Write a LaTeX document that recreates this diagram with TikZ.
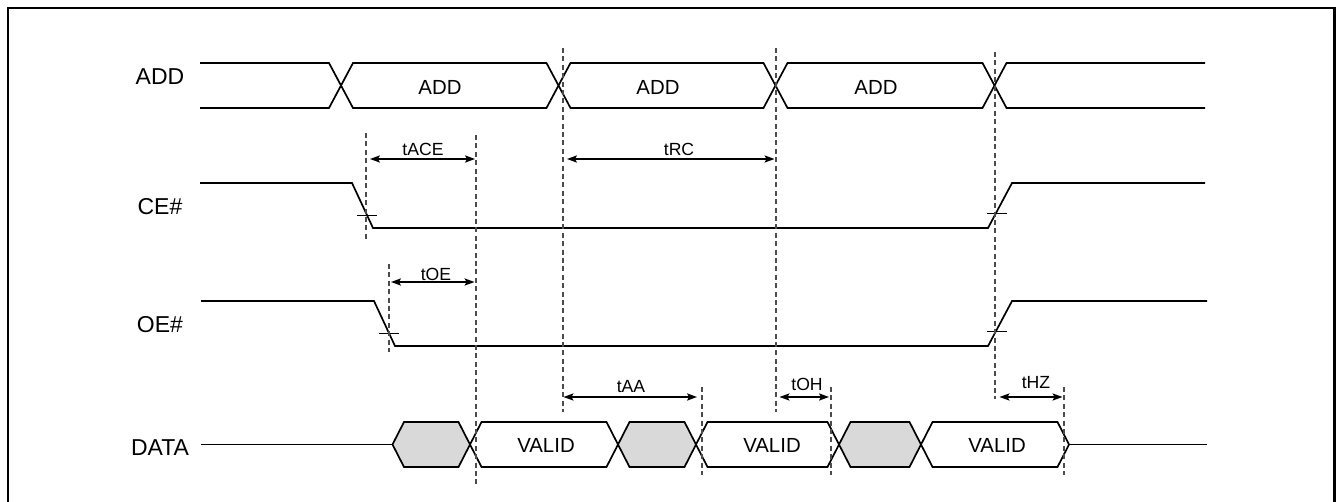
\documentclass[tikz,border=0pt]{standalone}
\usepackage{fontspec}
\setmainfont{Liberation Sans}
\usepackage{tikz}
\usetikzlibrary{arrows.meta}
\definecolor{datagray}{RGB}{217,217,217}

\begin{document}
\begin{tikzpicture}[x=0.5pt, y=-0.5pt,
    sig/.style={line width=0.85pt, line join=miter},
    guide/.style={line width=0.6pt, black!70, dash pattern=on 2.5pt off 1.7pt},
    span/.style={line width=0.6pt, {Stealth[length=5pt,width=3.6pt,inset=1pt]}-{Stealth[length=5pt,width=3.6pt,inset=1pt]}},
    lbl/.style={font=\fontsize{11.5}{13}\selectfont},
    boxtxt/.style={font=\fontsize{10.2}{12}\selectfont},
    tlbl/.style={font=\fontsize{8.8}{10}\selectfont, inner sep=0pt}]
  \useasboundingbox (0,0) rectangle (1336,502);
  \draw[line width=1.1pt] (8,504) -- (8,8) -- (1334.5,8) -- (1334.5,504);

  \pgfmathsetmacro{\addhi}{63}   \pgfmathsetmacro{\addlo}{108}
  \pgfmathsetmacro{\cehi}{183}   \pgfmathsetmacro{\celo}{228}
  \pgfmathsetmacro{\oehi}{301}   \pgfmathsetmacro{\oelo}{346}
  \pgfmathsetmacro{\dhi}{422}    \pgfmathsetmacro{\dlo}{467}
  \pgfmathsetmacro{\dmid}{444.5}

      \node[lbl] (addlbl) at (160,77) {ADD};
      \node[lbl] (celbl) at (160,207) {CE\#};
      \node[lbl] (oelbl) at (160,325) {OE\#};
      \node[lbl] (datalbl) at (160,448) {DATA};

  \draw[sig] (200,\addhi) \foreach \c/\a/\b in {341/\addhi/\addlo, 558.5/\addlo/\addhi, 775.5/\addhi/\addlo, 994.5/\addlo/\addhi}{
      -- ({\c-12},\a) -- ({\c+12},\b)
    } -- (1205,\addhi);
  \draw[sig] (200,\addlo) \foreach \c/\a/\b in {341/\addlo/\addhi, 558.5/\addhi/\addlo, 775.5/\addlo/\addhi, 994.5/\addhi/\addlo}{
      -- ({\c-12},\a) -- ({\c+12},\b)
    } -- (1205,\addlo);
    \foreach \x [count=\i] in {440,658,876}{
      \node[boxtxt] (addtxt\i) at (\x,87) {ADD};
    };

  \draw[sig] (200,\cehi) -- (352,\cehi) -- (373,\celo) -- (988,\celo) -- (1012,\cehi) -- (1205,\cehi);
  \draw[line width=0.5pt] (357,215) -- (377,215)  (987,213) -- (1007,213);

  \draw[sig] (201,\oehi) -- (374,\oehi) -- (395,\oelo) -- (988,\oelo) -- (1012,\oehi) -- (1207,\oehi);
  \draw[line width=0.5pt] (379,333) -- (399,333)  (987,331) -- (1007,331);

  \draw[sig] (201,\dmid) -- (392.5,\dmid);
  \draw[sig] (1069,\dmid) -- (1207,\dmid);
        \foreach \a/\b/\f in {392.5/470/datagray, 470/618/white, 618/696/datagray, 696/839/white, 839/921/datagray, 921/1069/white}{
          \filldraw[sig, fill=\f] (\a,\dmid) -- ({\a+11.5},\dhi) -- ({\b-11.5},\dhi) -- (\b,\dmid) -- ({\b-11.5},\dlo) -- ({\a+11.5},\dlo) -- cycle;
        };
    \foreach \x [count=\i] in {546,772,997}{
      \node[boxtxt] (valid\i) at (\x,445) {VALID};
    };

    \foreach \x/\ya/\yb in {366/133/240, 389/264/352, 476/135/487, 563/48/412, 776/48/412, 995/52/399, 702/387/475, 831/387/475, 1064/387/475}{
      \draw[guide] (\x,\ya) -- (\x,\yb);
    };

    \foreach \xa/\xb/\y/\xt/\yt/\t in {370/475/159/423/149/tACE, 567/774.5/159/679/149/tRC, 391/474.5/282/436/274.5/tOE, 563.5/697/397/631/387/tAA, 779.5/829/397/807/384/tOH, 999.5/1062.5/397/1036/383/tHZ}{
      \draw[span] (\xa,\y) -- (\xb,\y);
      \node[tlbl] (\t) at (\xt,\yt) {\t};
    };
  \end{tikzpicture}
\end{document}
